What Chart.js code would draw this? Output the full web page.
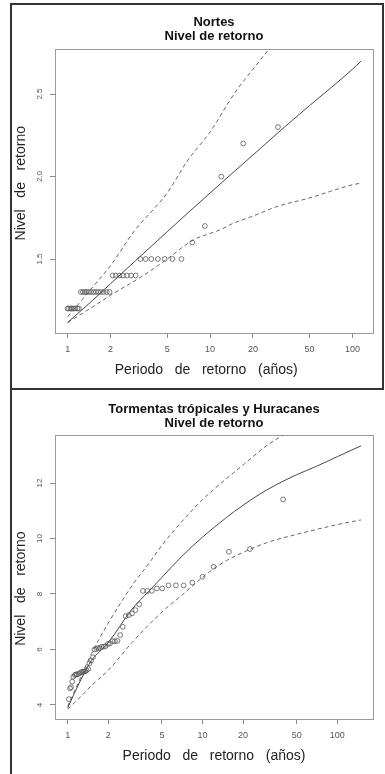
<!DOCTYPE html>
<html>
<head>
<meta charset="utf-8">
<script src="https://cdn.jsdelivr.net/npm/chart.js@4.4.1/dist/chart.umd.min.js"></script>
<style>
  html, body { margin: 0; padding: 0; background: #fff; }
  #page { position: relative; width: 385px; height: 774px; overflow: hidden; background: #fff; }
  canvas { position: absolute; left: 0; }
  #c1 { top: 0; }
  #c2 { top: 388px; }
  .frame { position: absolute; border: 2px solid #333; box-sizing: border-box; }
</style>
</head>
<body>
<div id="page">
  <div class="frame" style="left:10px;top:3px;width:374px;height:387px;"></div>
  <div style="position:absolute;left:10px;top:388px;width:2px;height:386px;background:#333;"></div>
  <canvas id="c1" width="385" height="388"></canvas>
  <canvas id="c2" width="385" height="386"></canvas>
</div>
<script>
Chart.defaults.font.family = "'Liberation Sans', Arial, sans-serif";

const xTicks = [1, 2, 5, 10, 20, 50, 100];

// Nortes: observed levels and their return periods
const nortesPeriodo = [30.0, 17.1, 12.0, 9.2, 7.5, 6.3, 5.45, 4.8, 4.3, 3.87, 3.53, 3.24,
  3.0, 2.79, 2.61, 2.45, 2.31, 2.18, 2.07,
  1.97, 1.88, 1.79, 1.71, 1.64, 1.58, 1.52, 1.46, 1.41, 1.36, 1.32, 1.28, 1.24,
  1.2, 1.17, 1.13, 1.1, 1.07, 1.05, 1.02, 1.0];
const nortesNivel = [2.3, 2.2, 2.0, 1.7, 1.6, 1.5, 1.5, 1.5, 1.5, 1.5, 1.5, 1.5,
  1.4, 1.4, 1.4, 1.4, 1.4, 1.4, 1.4,
  1.3, 1.3, 1.3, 1.3, 1.3, 1.3, 1.3, 1.3, 1.3, 1.3, 1.3, 1.3, 1.3,
  1.2, 1.2, 1.2, 1.2, 1.2, 1.2, 1.2, 1.2];
// fitted return level and confidence band
const nortesAjusteT = [1, 1.5, 2, 3, 5, 7, 10, 15, 20, 30, 50, 70, 100, 115];
const nortesAjuste = [1.115, 1.25, 1.35, 1.49, 1.665, 1.78, 1.9, 2.035, 2.13, 2.265, 2.43, 2.535, 2.65, 2.7];
const nortesSupT = [1, 1.5, 2, 3, 4, 5, 7, 10, 15, 20, 30];
const nortesSup = [1.15, 1.33, 1.46, 1.68, 1.8, 1.9, 2.1, 2.27, 2.51, 2.65, 2.84];
const nortesInfT = [1, 1.5, 2, 3.4, 5, 7.6, 10, 12, 14, 20, 30, 50, 70, 100, 115];
const nortesInf = [1.115, 1.21, 1.28, 1.4, 1.5, 1.615, 1.655, 1.68, 1.71, 1.76, 1.82, 1.87, 1.91, 1.95, 1.96];
const nortesYTicks = [1.5, 2.0, 2.5];

// Tormentas tropicales y huracanes
const tormPeriodo = [39.6, 22.5, 15.7, 12.1, 10.0, 8.4, 7.25, 6.35, 5.6, 5.03, 4.59, 4.21,
  3.9, 3.62, 3.39, 3.18, 3.0, 2.84, 2.69, 2.56, 2.45, 2.34, 2.24, 2.15, 2.06, 1.99,
  1.91, 1.85, 1.79, 1.73, 1.68, 1.63, 1.58, 1.54, 1.49, 1.45, 1.42, 1.38, 1.35, 1.32,
  1.29, 1.26, 1.23, 1.2, 1.17, 1.15, 1.13, 1.1, 1.08, 1.06, 1.04, 1.02];
const tormNivel = [11.41, 9.62, 9.52, 8.98, 8.62, 8.41, 8.31, 8.31, 8.31, 8.2, 8.2, 8.11,
  8.11, 8.11, 7.63, 7.42, 7.3, 7.24, 7.2, 6.82, 6.52, 6.31, 6.3, 6.3, 6.22, 6.2,
  6.12, 6.1, 6.1, 6.05, 6.05, 6.02, 6.0, 5.72, 5.6, 5.5, 5.3, 5.25, 5.22, 5.2,
  5.2, 5.18, 5.15, 5.12, 5.1, 5.1, 5.08, 5.02, 4.84, 4.64, 4.6, 4.21];
const tormAjusteT = [1, 1.25, 1.5, 2, 3, 4, 5, 7, 10, 15, 20, 30, 50, 70, 100, 150];
const tormAjuste = [3.9, 4.9, 5.6, 6.25, 7.45, 8.1, 8.6, 9.35, 10.05, 10.75, 11.2, 11.75, 12.3, 12.6, 12.95, 13.34];
const tormSupT = [1, 1.25, 1.5, 2, 3, 4, 5, 7, 10, 15, 20, 30, 40, 50];
const tormSup = [3.95, 5.0, 5.85, 6.95, 8.3, 9.1, 9.75, 10.6, 11.4, 12.15, 12.65, 13.35, 13.75, 14.1];
const tormInfT = [1, 1.25, 1.5, 2, 3, 5, 7, 10, 12, 15, 20, 30, 50, 100, 150];
const tormInf = [3.85, 4.3, 4.7, 5.25, 6.25, 7.35, 7.95, 8.6, 8.9, 9.2, 9.5, 9.85, 10.15, 10.5, 10.67];
const tormYTicks = [4, 6, 8, 10, 12];

const pts = (xs, ys) => xs.map((x, i) => ({x: x, y: ys[i]}));

// grey box around the plotting region, like R's bty="o"
const plotBox = {
  id: 'plotBox',
  beforeDatasetsDraw(chart) {
    const {ctx, chartArea: a} = chart;
    ctx.save();
    ctx.strokeStyle = '#9a9a9a';
    ctx.lineWidth = 1;
    ctx.strokeRect(a.left + 0.5, a.top + 0.5, a.right - a.left, a.bottom - a.top);
    ctx.restore();
  }
};

function datasets(per, niv, aT, a, sT, s, iT, inf) {
  const line = (data, dash, color) => ({
    data: data, showLine: true, borderColor: color, borderWidth: 1, borderDash: dash,
    pointRadius: 0, cubicInterpolationMode: 'monotone', clip: 0
  });
  return [
    {data: pts(per, niv), pointRadius: 2.4, pointBorderWidth: 0.8,
     pointBorderColor: '#585858', pointBackgroundColor: 'rgba(0,0,0,0)'},
    line(pts(aT, a), [], '#474747'),
    line(pts(sT, s), [4, 3], '#666'),
    line(pts(iT, inf), [4, 3], '#666')
  ];
}

function options(c) {
  return {
    responsive: false,
    animation: false,
    layout: {padding: {left: 0, right: 12, top: 0, bottom: 0}},
    plugins: {
      legend: {display: false},
      tooltip: {enabled: false},
      title: {display: true, fullSize: false, text: c.title, color: '#111',
        font: {size: 13, weight: 'bold', lineHeight: '14px'},
        padding: {top: c.titleTop, bottom: c.titleBottom}}
    },
    scales: {
      x: {
        type: 'logarithmic', min: c.xMin, max: c.xMax,
        afterBuildTicks: s => { s.ticks = xTicks.map(v => ({value: v})); },
        afterFit: s => { s.height = 55; },
        grid: {drawOnChartArea: false, drawTicks: true, tickLength: 5, color: '#888'},
        border: {display: false},
        ticks: {autoSkip: false, maxRotation: 0, padding: 6.6, color: '#555',
          font: {size: 9}, callback: v => String(v)},
        title: {display: true, text: c.xTitle, color: '#222', font: {size: 14},
          padding: {top: 0, bottom: 9.6}}
      },
      y: {
        min: c.yMin, max: c.yMax,
        afterBuildTicks: s => { s.ticks = c.yTicks.map(v => ({value: v})); },
        afterFit: s => { s.width = 55; },
        grid: {drawOnChartArea: false, drawTicks: true, tickLength: 5, color: '#888'},
        border: {display: false},
        ticks: {minRotation: 90, maxRotation: 90, crossAlign: 'center', padding: c.yPad,
          color: '#555', font: {size: 8}, callback: c.yLabel},
        title: {display: true, text: c.yTitle, color: '#222', font: {size: 14},
          padding: {top: 12.6, bottom: 0}}
      }
    }
  };
}

new Chart(document.getElementById('c1'), {
  type: 'scatter',
  data: {datasets: datasets(nortesPeriodo, nortesNivel, nortesAjusteT, nortesAjuste,
    nortesSupT, nortesSup, nortesInfT, nortesInf)},
  options: options({
    title: ['Nortes', 'Nivel de retorno'], titleTop: 15, titleBottom: 6,
    xMin: 0.815, xMax: 139.5, yMin: 1.0515, yMax: 2.773,
    yTicks: nortesYTicks, yLabel: v => v.toFixed(1), yPad: 4.4,
    xTitle: 'Periodo   de   retorno   (años)    ',
    yTitle: '    Nivel   de   retorno'
  }),
  plugins: [plotBox]
});

new Chart(document.getElementById('c2'), {
  type: 'scatter',
  data: {datasets: datasets(tormPeriodo, tormNivel, tormAjusteT, tormAjuste,
    tormSupT, tormSup, tormInfT, tormInf)},
  options: options({
    title: ['Tormentas trópicales y Huracanes', 'Nivel de retorno'], titleTop: 14, titleBottom: 5,
    xMin: 0.805, xMax: 184, yMin: 3.495, yMax: 13.73,
    yTicks: tormYTicks, yLabel: v => String(v), yPad: 5.5,
    xTitle: 'Periodo   de   retorno   (años)',
    yTitle: 'Nivel   de   retorno      '
  }),
  plugins: [plotBox]
});
</script>
</body>
</html>
